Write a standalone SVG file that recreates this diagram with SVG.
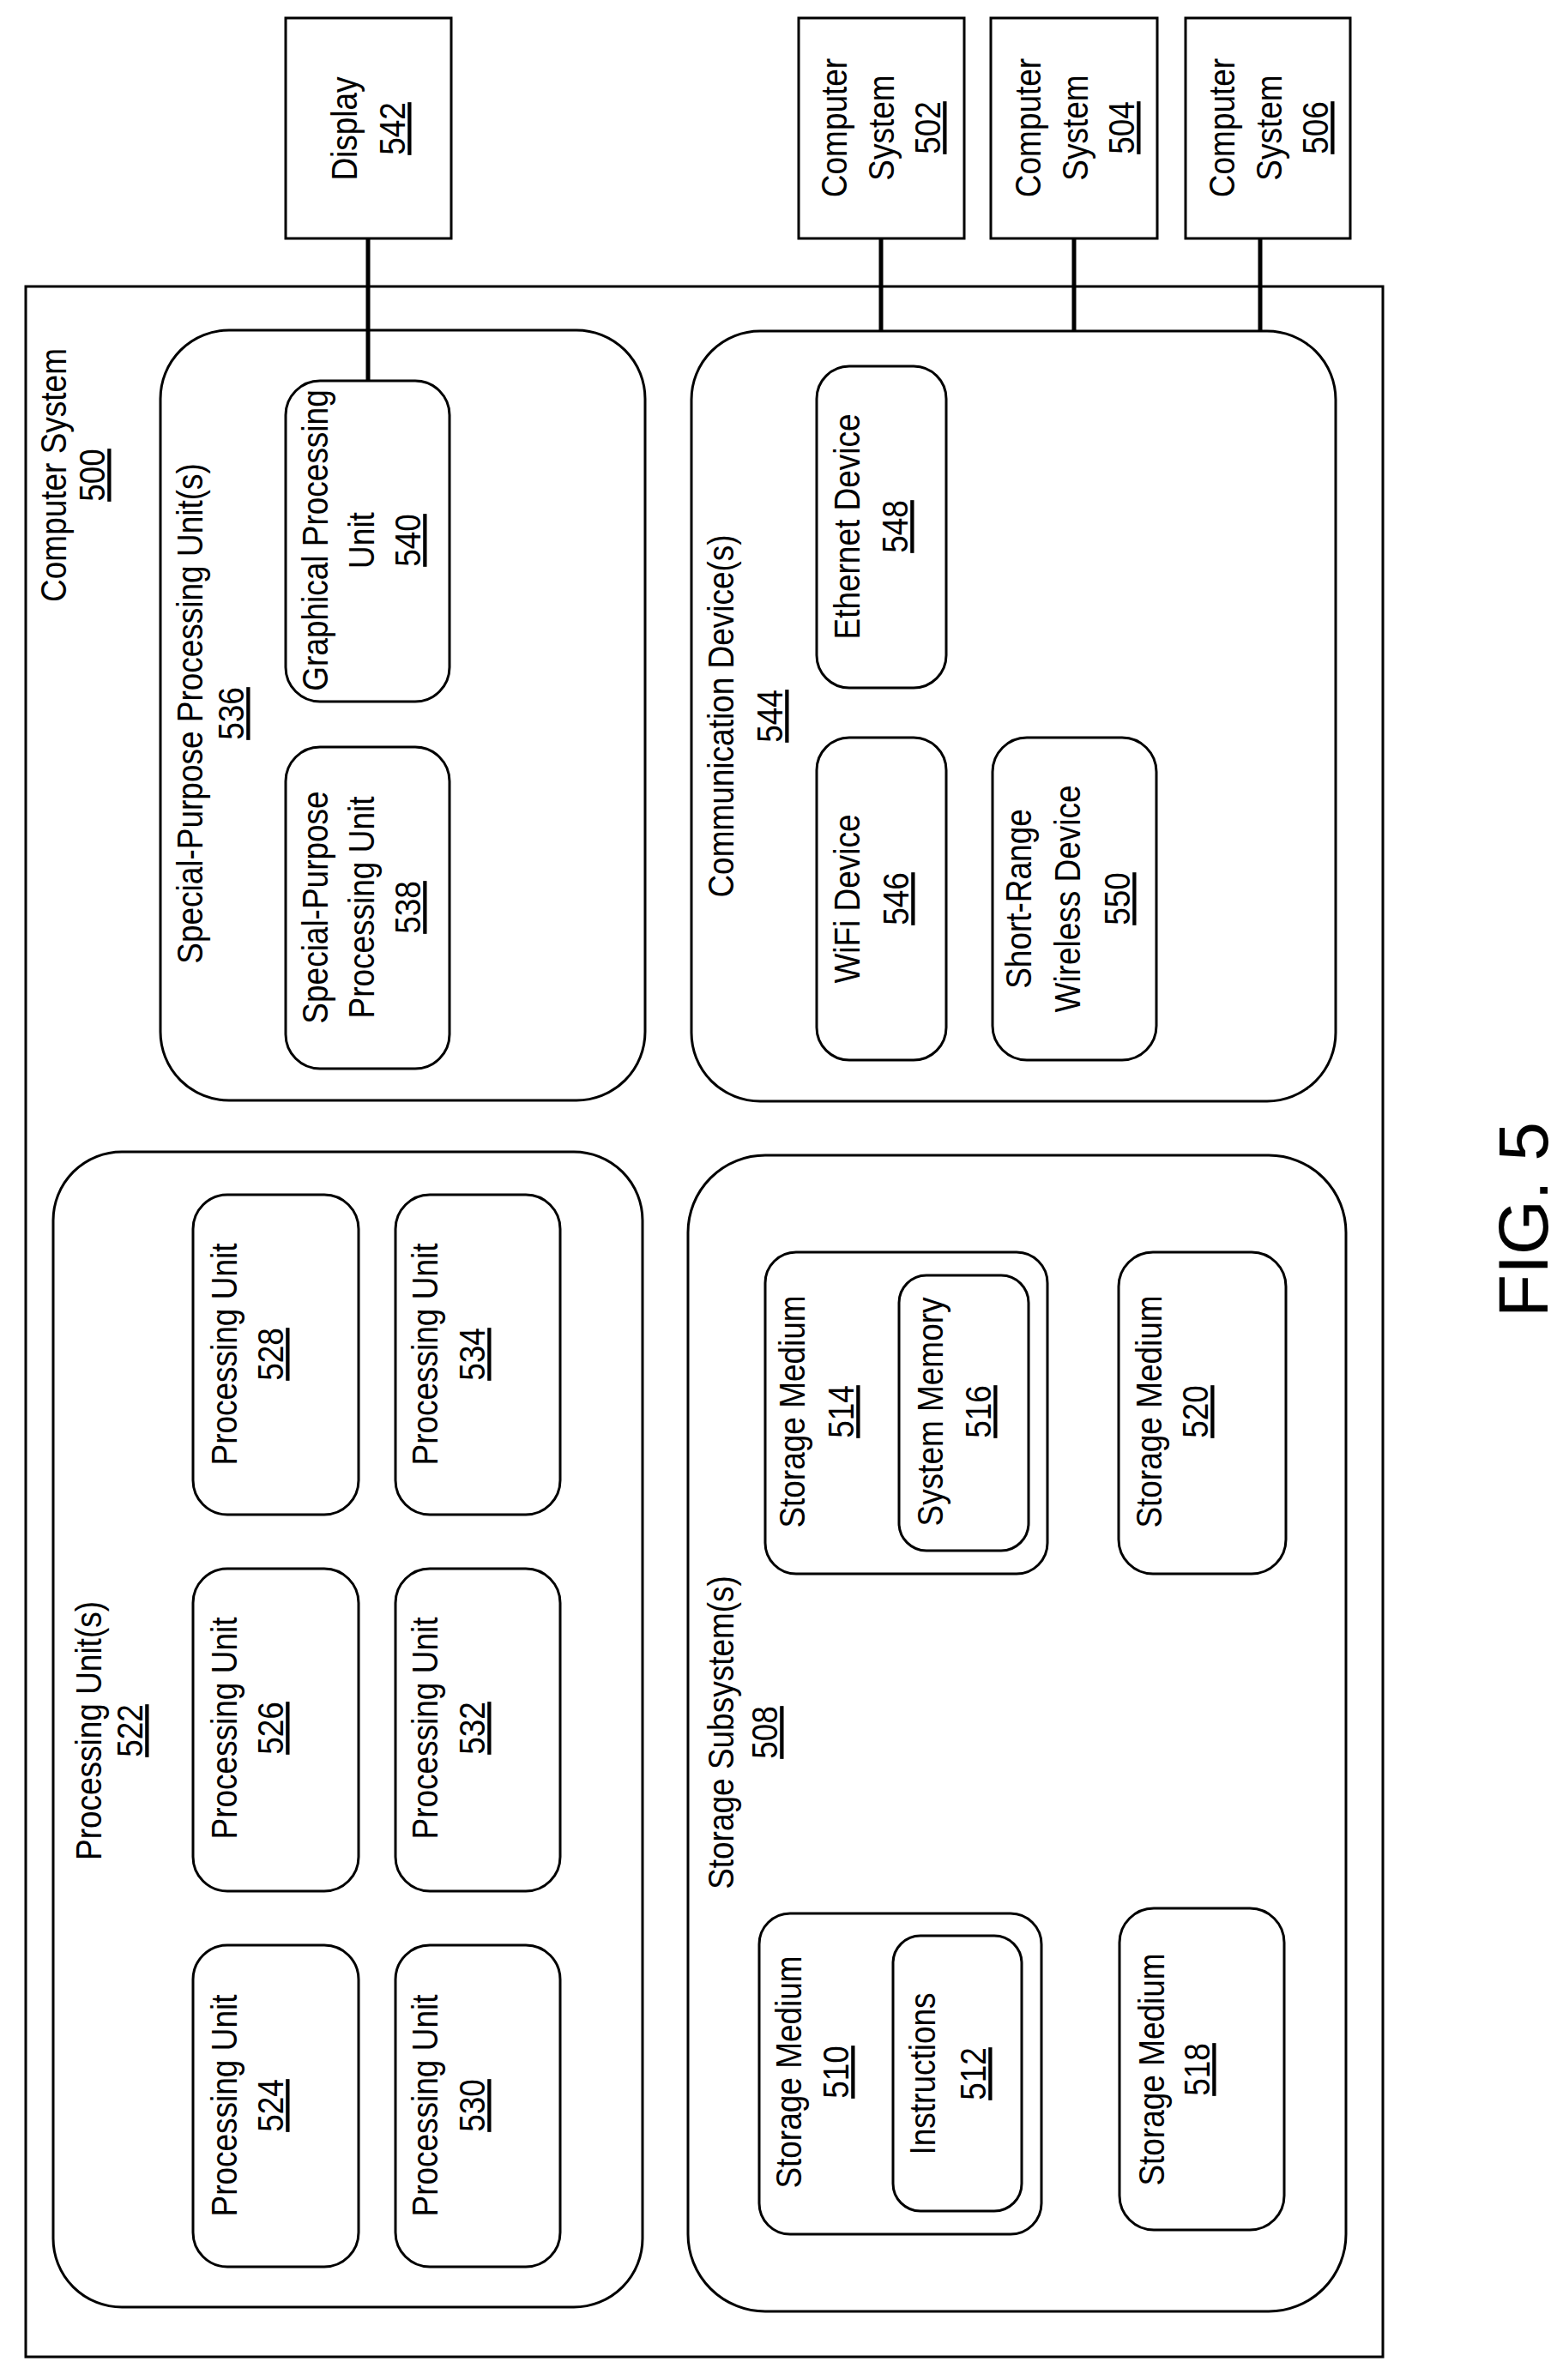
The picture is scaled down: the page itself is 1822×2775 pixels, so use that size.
<svg xmlns="http://www.w3.org/2000/svg" width="1822" height="2775" viewBox="0 0 1822 2775">
<style>
.b{fill:none;stroke:#000;stroke-width:3}
.c{fill:none;stroke:#000;stroke-width:5}
text{font-family:"Liberation Sans",Arial,sans-serif;font-size:43px;text-anchor:middle;fill:#000}
.u{text-decoration:underline}
.fig{font-size:82px}
</style>
<rect width="1822" height="2775" fill="#fff"/>
<g id="n500"><rect class="b" x="30" y="334" width="1582" height="2414"/>
<text transform="translate(77,554) rotate(-90) scale(.86,1)">Computer System</text>
<text class="u" transform="translate(122,554) rotate(-90) scale(.86,1)">500</text></g>
<g id="n542"><rect class="b" x="333" y="21" width="193" height="257"/>
<text transform="translate(416,150) rotate(-90) scale(.86,1)">Display</text>
<text class="u" transform="translate(472,150) rotate(-90) scale(.86,1)">542</text></g>
<g id="n502"><rect class="b" x="931" y="21" width="193" height="257"/>
<text transform="translate(987,149) rotate(-90) scale(.86,1)">Computer</text>
<text transform="translate(1042,149) rotate(-90) scale(.86,1)">System</text>
<text class="u" transform="translate(1096,149) rotate(-90) scale(.86,1)">502</text></g>
<g id="n504"><rect class="b" x="1155" y="21" width="194" height="257"/>
<text transform="translate(1213,149) rotate(-90) scale(.86,1)">Computer</text>
<text transform="translate(1268,149) rotate(-90) scale(.86,1)">System</text>
<text class="u" transform="translate(1322,149) rotate(-90) scale(.86,1)">504</text></g>
<g id="n506"><rect class="b" x="1382" y="21" width="192" height="257"/>
<text transform="translate(1439,149) rotate(-90) scale(.86,1)">Computer</text>
<text transform="translate(1494,149) rotate(-90) scale(.86,1)">System</text>
<text class="u" transform="translate(1548,149) rotate(-90) scale(.86,1)">506</text></g>
<g id="n536"><rect class="b" x="187" y="385" width="565" height="898" rx="80"/>
<text transform="translate(236,832) rotate(-90) scale(.86,1)">Special-Purpose Processing Unit(s)</text>
<text class="u" transform="translate(284,832) rotate(-90) scale(.86,1)">536</text></g>
<g id="n540"><rect class="b" x="333" y="444" width="191" height="374" rx="40"/>
<text transform="translate(382,630) rotate(-90) scale(.86,1)">Graphical Processing</text>
<text transform="translate(436,630) rotate(-90) scale(.86,1)">Unit</text>
<text class="u" transform="translate(490,630) rotate(-90) scale(.86,1)">540</text></g>
<g id="n538"><rect class="b" x="333" y="871" width="191" height="375" rx="40"/>
<text transform="translate(382,1058) rotate(-90) scale(.86,1)">Special-Purpose</text>
<text transform="translate(436,1058) rotate(-90) scale(.86,1)">Processing Unit</text>
<text class="u" transform="translate(490,1058) rotate(-90) scale(.86,1)">538</text></g>
<g id="n544"><rect class="b" x="806" y="386" width="751" height="898" rx="80"/>
<text transform="translate(855,835) rotate(-90) scale(.86,1)">Communication Device(s)</text>
<text class="u" transform="translate(912,835) rotate(-90) scale(.86,1)">544</text></g>
<g id="n548"><rect class="b" x="952" y="427" width="151" height="375" rx="38"/>
<text transform="translate(1002,614) rotate(-90) scale(.86,1)">Ethernet Device</text>
<text class="u" transform="translate(1058,614) rotate(-90) scale(.86,1)">548</text></g>
<g id="n546"><rect class="b" x="952" y="860" width="151" height="376" rx="38"/>
<text transform="translate(1002,1048) rotate(-90) scale(.86,1)">WiFi Device</text>
<text class="u" transform="translate(1059,1048) rotate(-90) scale(.86,1)">546</text></g>
<g id="n550"><rect class="b" x="1157" y="860" width="191" height="376" rx="40"/>
<text transform="translate(1202,1048) rotate(-90) scale(.86,1)">Short-Range</text>
<text transform="translate(1259,1048) rotate(-90) scale(.86,1)">Wireless Device</text>
<text class="u" transform="translate(1317,1048) rotate(-90) scale(.86,1)">550</text></g>
<g id="n522"><rect class="b" x="62" y="1343" width="687" height="1347" rx="80"/>
<text transform="translate(118,2018) rotate(-90) scale(.86,1)">Processing Unit(s)</text>
<text class="u" transform="translate(166,2018) rotate(-90) scale(.86,1)">522</text></g>
<g id="n528"><rect class="b" x="225" y="1393" width="193" height="373" rx="40"/>
<text transform="translate(276,1579) rotate(-90) scale(.86,1)">Processing Unit</text>
<text class="u" transform="translate(330,1579) rotate(-90) scale(.86,1)">528</text></g>
<g id="n534"><rect class="b" x="461" y="1393" width="192" height="373" rx="40"/>
<text transform="translate(510,1579) rotate(-90) scale(.86,1)">Processing Unit</text>
<text class="u" transform="translate(565,1579) rotate(-90) scale(.86,1)">534</text></g>
<g id="n526"><rect class="b" x="225" y="1829" width="193" height="376" rx="40"/>
<text transform="translate(276,2015) rotate(-90) scale(.86,1)">Processing Unit</text>
<text class="u" transform="translate(330,2015) rotate(-90) scale(.86,1)">526</text></g>
<g id="n532"><rect class="b" x="461" y="1829" width="192" height="376" rx="40"/>
<text transform="translate(510,2015) rotate(-90) scale(.86,1)">Processing Unit</text>
<text class="u" transform="translate(565,2015) rotate(-90) scale(.86,1)">532</text></g>
<g id="n524"><rect class="b" x="225" y="2268" width="193" height="375" rx="40"/>
<text transform="translate(276,2455) rotate(-90) scale(.86,1)">Processing Unit</text>
<text class="u" transform="translate(330,2455) rotate(-90) scale(.86,1)">524</text></g>
<g id="n530"><rect class="b" x="461" y="2268" width="192" height="375" rx="40"/>
<text transform="translate(510,2455) rotate(-90) scale(.86,1)">Processing Unit</text>
<text class="u" transform="translate(565,2455) rotate(-90) scale(.86,1)">530</text></g>
<g id="n508"><rect class="b" x="802" y="1347" width="767" height="1348" rx="90"/>
<text transform="translate(855,2020) rotate(-90) scale(.86,1)">Storage Subsystem(s)</text>
<text class="u" transform="translate(906,2020) rotate(-90) scale(.86,1)">508</text></g>
<g id="n514"><rect class="b" x="892" y="1460" width="329" height="375" rx="36"/>
<text transform="translate(938,1646) rotate(-90) scale(.86,1)">Storage Medium</text>
<text class="u" transform="translate(995,1646) rotate(-90) scale(.86,1)">514</text></g>
<g id="n516"><rect class="b" x="1048" y="1487" width="151" height="321" rx="32"/>
<text transform="translate(1099,1646) rotate(-90) scale(.86,1)">System Memory</text>
<text class="u" transform="translate(1155,1646) rotate(-90) scale(.86,1)">516</text></g>
<g id="n520"><rect class="b" x="1304" y="1460" width="195" height="375" rx="40"/>
<text transform="translate(1354,1646) rotate(-90) scale(.86,1)">Storage Medium</text>
<text class="u" transform="translate(1408,1646) rotate(-90) scale(.86,1)">520</text></g>
<g id="n510"><rect class="b" x="885" y="2231" width="329" height="374" rx="36"/>
<text transform="translate(934,2416) rotate(-90) scale(.86,1)">Storage Medium</text>
<text class="u" transform="translate(989,2416) rotate(-90) scale(.86,1)">510</text></g>
<g id="n512"><rect class="b" x="1041" y="2257" width="150" height="321" rx="32"/>
<text transform="translate(1090,2418) rotate(-90) scale(.86,1)">Instructions</text>
<text class="u" transform="translate(1149,2418) rotate(-90) scale(.86,1)">512</text></g>
<g id="n518"><rect class="b" x="1305" y="2225" width="192" height="375" rx="40"/>
<text transform="translate(1357,2413) rotate(-90) scale(.86,1)">Storage Medium</text>
<text class="u" transform="translate(1410,2413) rotate(-90) scale(.86,1)">518</text></g>
<g id="connectors">
<line class="c" x1="429" y1="278" x2="429" y2="444"/>
<line class="c" x1="1027" y1="278" x2="1027" y2="386"/>
<line class="c" x1="1252" y1="278" x2="1252" y2="386"/>
<line class="c" x1="1469" y1="278" x2="1469" y2="386"/>
</g>
<text class="fig" transform="translate(1804,1422) rotate(-90)">FIG. 5</text>
</svg>
